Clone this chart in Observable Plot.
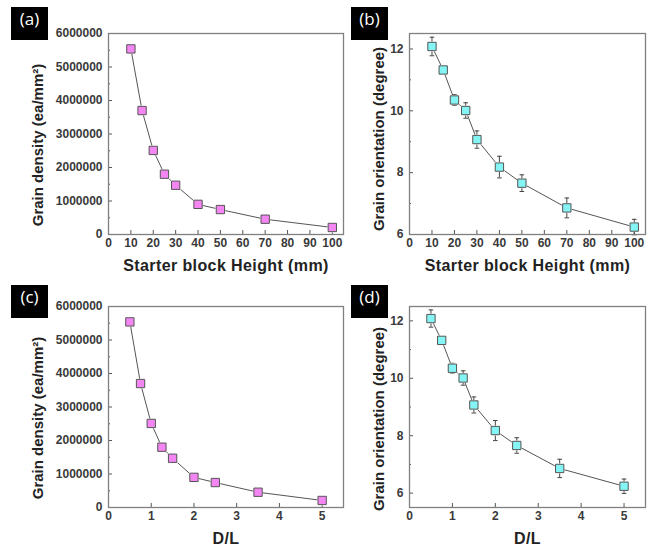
<!DOCTYPE html>
<html><head><meta charset="utf-8">
<script src="https://cdn.jsdelivr.net/npm/d3@7"></script>
<script src="https://cdn.jsdelivr.net/npm/@observablehq/plot@0.6"></script>
<style>
body{margin:0;background:#fff;}
#wrap{position:relative;width:650px;height:547px;overflow:hidden;background:#fff;}
.panel{position:absolute;}
.tag{position:absolute;background:#000;color:#fff;width:37px;height:33px;line-height:32px;text-align:center;font:17px "Open Sans","DejaVu Sans",sans-serif;}
</style></head><body><div id="wrap"></div>
<script>
// ---- data ----
const heights = [10, 15, 20, 25, 30, 40, 50, 70, 100];
const ratios = [0.5, 0.75, 1, 1.25, 1.5, 2, 2.5, 3.5, 5];
const density = [5540000, 3700000, 2510000, 1800000, 1470000, 900000, 745000, 456000, 210000];
const orientation = [12.08, 11.32, 10.35, 10.01, 9.07, 8.18, 7.66, 6.86, 6.24];
const orientationErr = [0.30, 0.10, 0.17, 0.25, 0.28, 0.35, 0.27, 0.32, 0.25];
const xTicksHeight = [0, 10, 20, 30, 40, 50, 60, 70, 80, 90, 100];
const xTicksRatio = [0, 1, 2, 3, 4, 5];
const yTicksDensity = [0, 1000000, 2000000, 3000000, 4000000, 5000000, 6000000];
const yMinorDensity = [500000, 1500000, 2500000, 3500000, 4500000, 5500000];
const yTicksOrient = [6, 8, 10, 12];
const yMinorOrient = [7, 9, 11];
const panelTags = ["(a)", "(b)", "(c)", "(d)"];
const xTitleHeight = "Starter block Height (mm)";
const xTitleRatio = "D/L";
const yTitleDensity = "Grain density (ea/mm\u00B2)";
const yTitleOrient = "Grain orientation (degree)";

const capSymbol = {draw(ctx, size) { const w = Math.sqrt(size) / 2; ctx.moveTo(-w, 0); ctx.lineTo(w, 0); }};

function panel({xs, ys, err, xDomain, yDomain, xTicks, yTicks, yMinor, xTitle, yTitle, fill,
                left, top, width, height, margin, yTitleDx, yTitleDy, yFormat}) {
  const rows = xs.map((x, i) => ({x, y: ys[i], lo: err ? ys[i] - err[i] : null, hi: err ? ys[i] + err[i] : null}));
  const marks = [
    Plot.axisX({ticks: xTicks, tickSize: -4, tickPadding: 8, tickFormat: d3.format("d"), label: null, fontSize: 12, fontWeight: "bold", fill: "#3a3a3a", stroke: "#555"}),
    Plot.axisY({ticks: yTicks, tickSize: -4, tickPadding: 10, tickFormat: yFormat, label: null, fontSize: 12, fontWeight: "bold", fill: "#3a3a3a", stroke: "#555"}),
    Plot.axisY({ticks: yMinor, tickSize: -2, tickFormat: () => "", label: null, stroke: "#555"}),
    Plot.line(rows, {x: "x", y: "y", stroke: "#555", strokeWidth: 1})
  ];
  if (err) {
    marks.push(Plot.ruleX(rows, {x: "x", y1: "lo", y2: "hi", stroke: "#444", strokeWidth: 1}));
    marks.push(Plot.dot(rows, {x: "x", y: "lo", symbol: capSymbol, r: 2.6, fill: "none", stroke: "#444", strokeWidth: 1}));
    marks.push(Plot.dot(rows, {x: "x", y: "hi", symbol: capSymbol, r: 2.6, fill: "none", stroke: "#444", strokeWidth: 1}));
  }
  marks.push(Plot.dot(rows, {x: "x", y: "y", symbol: "square", r: 5.6, fill: "#fff", stroke: "none"}));
  marks.push(Plot.dot(rows, {x: "x", y: "y", symbol: "square", r: 4.7, fill, stroke: "#555", strokeWidth: 1}));
  marks.push(Plot.frame({stroke: "#808080", strokeWidth: 1.3}));
  marks.push(Plot.text([xTitle], {frameAnchor: "bottom", dy: 31, fontSize: 16, fontWeight: "bold", fill: "#222", text: d => d, lineAnchor: "middle", textAnchor: "middle"}));
  marks.push(Plot.text([yTitle], {frameAnchor: "left", dx: yTitleDx, dy: yTitleDy, rotate: -90, fontSize: 15, fontWeight: "bold", fill: "#222", text: d => d, lineAnchor: "middle", textAnchor: "middle"}));
  const svg = Plot.plot({
    width, height,
    marginLeft: margin[0], marginTop: margin[1], marginRight: margin[2], marginBottom: margin[3],
    style: {fontFamily: "'Liberation Sans', Arial, sans-serif", background: "transparent", overflow: "visible"},
    x: {domain: xDomain, axis: null},
    y: {domain: yDomain, axis: null},
    marks
  });
  const titles = svg.querySelectorAll('g[aria-label="text"] text');
  if (titles[0]) titles[0].setAttribute("letter-spacing", "0.4");
  svg.classList.add("panel");
  svg.style.left = left + "px";
  svg.style.top = top + "px";
  return svg;
}

const wrap = document.getElementById("wrap");
const fmtD = d3.format("d");
const fmtO = d3.format("d");
wrap.appendChild(panel({xs: heights, ys: density, xDomain: [0, 105], yDomain: [0, 6000000], xTicks: xTicksHeight,
  yTicks: yTicksDensity, yMinor: yMinorDensity, xTitle: xTitleHeight, yTitle: yTitleDensity, fill: "#f486f4",
  left: 0, top: 0, width: 345, height: 275, margin: [108, 33, 2, 41], yTitleDx: -70, yTitleDy: 11, yFormat: fmtD}));
wrap.appendChild(panel({xs: heights, ys: orientation, err: orientationErr, xDomain: [0, 105], yDomain: [6, 12.5], xTicks: xTicksHeight,
  yTicks: yTicksOrient, yMinor: yMinorOrient, xTitle: xTitleHeight, yTitle: yTitleOrient, fill: "#84f4f4",
  left: 345, top: 0, width: 305, height: 275, margin: [64, 33, 5, 41], yTitleDx: -30, yTitleDy: 5, yFormat: fmtO}));
wrap.appendChild(panel({xs: ratios, ys: density, xDomain: [0, 5.5], yDomain: [0, 6000000], xTicks: xTicksRatio,
  yTicks: yTicksDensity, yMinor: yMinorDensity, xTitle: xTitleRatio, yTitle: yTitleDensity, fill: "#f486f4",
  left: 0, top: 275, width: 345, height: 272, margin: [108, 31, 2, 40], yTitleDx: -70, yTitleDy: 11, yFormat: fmtD}));
wrap.appendChild(panel({xs: ratios, ys: orientation, err: orientationErr, xDomain: [0, 5.5], yDomain: [5.5, 12.5], xTicks: xTicksRatio,
  yTicks: yTicksOrient, yMinor: yMinorOrient, xTitle: xTitleRatio, yTitle: yTitleOrient, fill: "#84f4f4",
  left: 345, top: 275, width: 305, height: 272, margin: [64, 31, 5, 40], yTitleDx: -30, yTitleDy: 12, yFormat: fmtO}));

const tagPos = [[11, 7], [351, 7], [11, 285], [351, 285]];
panelTags.forEach((t, i) => {
  const d = document.createElement("div");
  d.className = "tag";
  d.textContent = t;
  d.style.left = tagPos[i][0] + "px";
  d.style.top = tagPos[i][1] + "px";
  wrap.appendChild(d);
});
</script></body></html>
